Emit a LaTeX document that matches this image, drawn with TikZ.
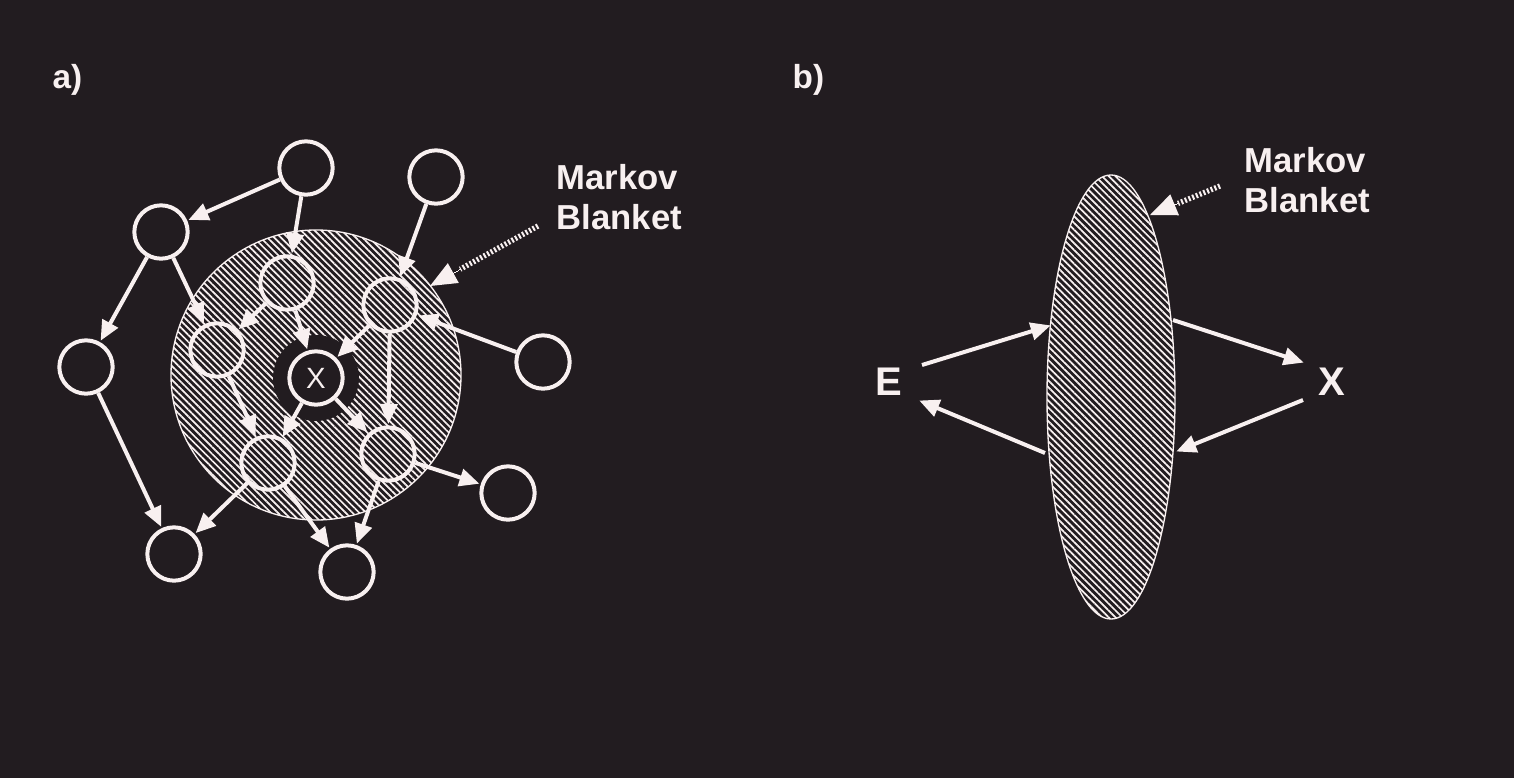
\documentclass[tikz,border=0pt]{standalone}
\usepackage{fontspec}
\setmainfont{Liberation Sans}
\usetikzlibrary{arrows.meta,patterns.meta,calc,shapes.geometric}
\definecolor{bg}{HTML}{221C20}
\definecolor{fg}{HTML}{F8F0F0}
\begin{document}
\begin{tikzpicture}[x=0.75pt,y=-0.75pt,
  nd/.style={circle,draw=fg,line width=3pt,minimum size=40pt,inner sep=0pt},
  ar/.style={draw=fg,line width=3pt,-{Triangle[length=15pt,width=13pt]},shorten >=1pt},
  hatch/.style={pattern={Lines[angle=-45,distance=3.6pt,line width=1.3pt]},pattern color=fg},
  dot/.style={draw=fg,line width=4pt,dash pattern=on 1.5pt off 1.5pt},
  lbl/.style={text=fg,font=\bfseries\fontsize{25}{30}\selectfont,align=left}]
\fill[bg] (0,0) rectangle (1514,778);
\useasboundingbox (0,0) rectangle (1514,778);
% panel a
\node[lbl,anchor=west] (la) at (48,80) {a)};
\fill[hatch] (316,375) circle[radius=145];
\draw[fg,line width=1pt] (316,375) circle[radius=145];
\fill[bg] (316,378) circle[radius=43];
\node[nd] (A) at (306,168) {};
\node[nd] (B) at (161,232) {};
\node[nd] (C) at (436,177) {};
\node[nd] (D) at (86,367) {};
\node[nd] (E) at (287,283) {};
\node[nd] (F) at (390,305) {};
\node[nd] (G) at (217,350) {};
\node[nd,fill=bg,text=fg,font=\fontsize{22}{24}\selectfont] (X) at (316,378) {X};
\node[nd] (H) at (543,362) {};
\node[nd] (I) at (268,463) {};
\node[nd] (J) at (388,454) {};
\node[nd] (K) at (508,493) {};
\node[nd] (L) at (174,554) {};
\node[nd] (M) at (347,572) {};
\foreach \a/\b in {A/B,A/E,C/F,B/D,B/G,E/G,E/X,F/X,F/J,H/F,D/L,G/I,X/I,X/J,I/L,I/M,J/M,J/K}
  \draw[ar] (\a) -- (\b);
\node[lbl,anchor=north west,font=\bfseries\fontsize{26}{30}\selectfont] (mb1) at (552,160) {Markov\\Blanket};
\coordinate (m1s) at (538,226);
\coordinate (m1e) at (430,286);
\draw[dot] (m1s) -- ($(m1s)!0.72!(m1e)$);
\draw[fg,line width=0pt,-{Triangle[length=20pt,width=17pt]}] ($(m1s)!0.72!(m1e)$) -- (m1e);
% panel b
\node[lbl,anchor=west] (lb) at (788,80) {b)};
\node[ellipse,draw=fg,line width=1pt,hatch,minimum width=96pt,minimum height=333pt] (el) at (1111,397) {};
\node[lbl,font=\bfseries\fontsize{30}{32}\selectfont] (E2) at (889,382) {E};
\node[lbl,font=\bfseries\fontsize{30}{32}\selectfont] (X2) at (1332,382) {X};
\coordinate (b1) at (922,365); \coordinate (b2) at (1052,325);
\coordinate (b3) at (1045,453); \coordinate (b4) at (918,400);
\coordinate (b5) at (1173,320); \coordinate (b6) at (1305,363);
\coordinate (b7) at (1303,400); \coordinate (b8) at (1175,452);
\draw[ar] (b1) -- (b2); \draw[ar] (b3) -- (b4);
\draw[ar] (b5) -- (b6); \draw[ar] (b7) -- (b8);
\node[lbl,anchor=north west,font=\bfseries\fontsize{26}{30}\selectfont] (mb2) at (1240,143) {Markov\\Blanket};
\coordinate (m2s) at (1220,186);
\coordinate (m2e) at (1150,215);
\draw[dot] (m2s) -- ($(m2s)!0.6!(m2e)$);
\draw[fg,line width=0pt,-{Triangle[length=20pt,width=17pt]}] ($(m2s)!0.6!(m2e)$) -- (m2e);
\end{tikzpicture}
\end{document}
